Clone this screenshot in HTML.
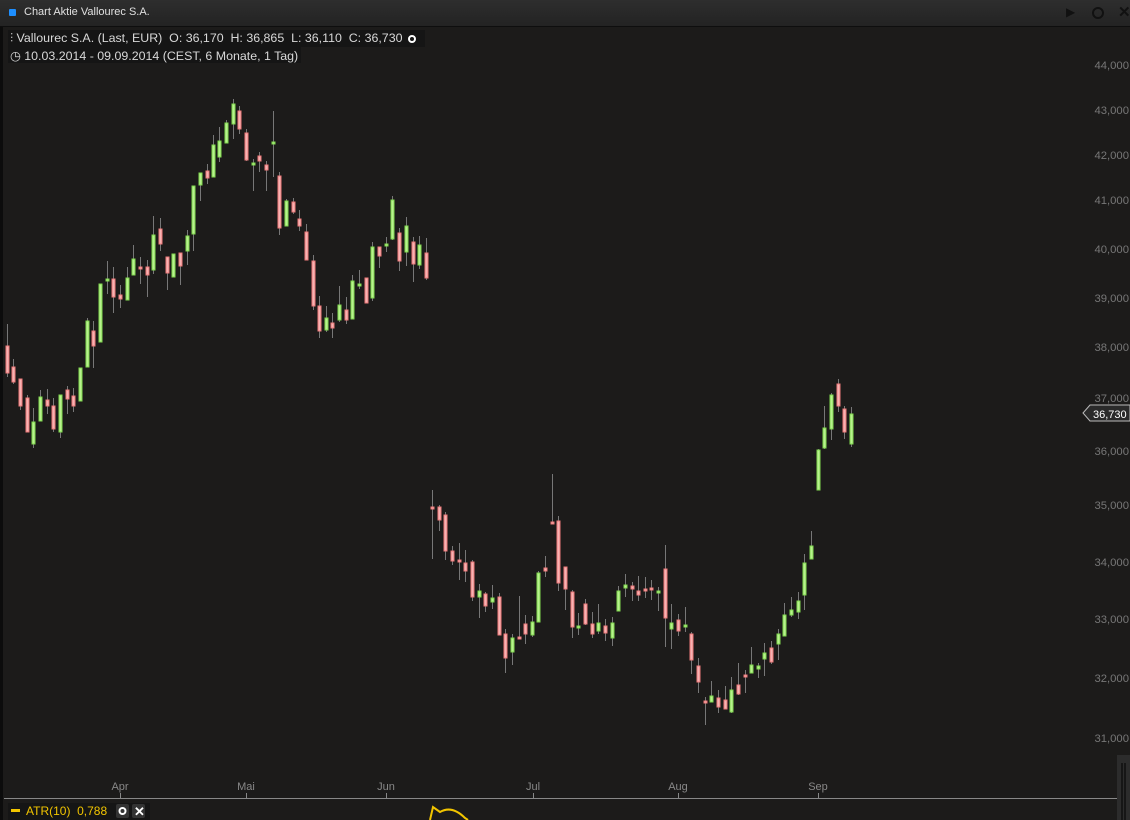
<!DOCTYPE html>
<html><head><meta charset="utf-8"><style>
body{margin:0;background:#1c1b1a;width:1130px;height:820px;overflow:hidden;font-family:"Liberation Sans",sans-serif}
#title{position:absolute;left:0;top:0;width:1130px;height:26px;background:linear-gradient(#2e2e2e,#232323);border-bottom:1px solid #0e0e0e}
.t{position:absolute;white-space:nowrap}
</style></head><body>
<div id="title">
<div style="position:absolute;left:9px;top:9px;width:7px;height:7px;background:#1e8fff;border-radius:1px"></div>
<div class="t" style="left:24px;top:6px;font-size:11px;color:#e0e0e0">Chart Aktie Vallourec S.A.</div>
<div class="t" style="left:1066px;top:5px;font-size:12px;color:#111">&#x25B6;</div>
<div style="position:absolute;left:1092px;top:7px;width:8px;height:8px;border:2px solid #111;border-radius:50%"></div>
<div class="t" style="left:1118px;top:3px;font-size:15px;font-weight:bold;color:#111">✕</div>
</div>
<div style="position:absolute;left:0;top:27px;width:3px;height:793px;background:#0c0c0c"></div>
<div style="position:absolute;left:8px;top:30px;width:417px;height:17px;background:#151515"></div>
<div class="t" style="left:10px;top:31px;font-size:12.4px;color:#d8d8d8">⫶ Vallourec S.A. (Last, EUR)&nbsp; O: 36,170&nbsp; H: 36,865&nbsp; L: 36,110&nbsp; C: 36,730</div>
<div style="position:absolute;left:408px;top:35px;width:4px;height:4px;border:2px solid #fff;border-radius:50%"></div>
<div style="position:absolute;left:8px;top:47px;width:293px;height:16px;background:#151515"></div>
<div class="t" style="left:10px;top:48px;font-size:12.4px;color:#d8d8d8">&#x25F7; 10.03.2014 - 09.09.2014 (CEST, 6 Monate, 1 Tag)</div>
<svg id="s" width="1130" height="820" style="position:absolute;left:0;top:0" xmlns="http://www.w3.org/2000/svg">
<g font-family="Liberation Sans, sans-serif" font-size="11.3" fill="#777" text-anchor="end">
<text x="1129" y="69">44,000</text><text x="1129" y="114">43,000</text><text x="1129" y="159">42,000</text><text x="1129" y="204">41,000</text><text x="1129" y="253">40,000</text><text x="1129" y="302">39,000</text><text x="1129" y="351">38,000</text><text x="1129" y="402">37,000</text><text x="1129" y="455">36,000</text><text x="1129" y="509">35,000</text><text x="1129" y="566">34,000</text><text x="1129" y="623">33,000</text><text x="1129" y="682">32,000</text><text x="1129" y="742">31,000</text>
</g>
<polygon points="1083,413 1090,405 1130,405 1130,421 1090,421" fill="#2a2a2a" stroke="#bbb"/>
<text x="1093" y="418" font-family="Liberation Sans" font-size="11" fill="#fff">36,730</text>
<rect x="1117" y="755" width="13" height="65" fill="#2c2c2c"/>
<line x1="1122" y1="763" x2="1122" y2="820" stroke="#000"/><line x1="1125" y1="763" x2="1125" y2="820" stroke="#000"/>
<line x1="4" y1="798.5" x2="1117" y2="798.5" stroke="#888"/>
<g stroke="#888"><line x1="120.5" y1="793" x2="120.5" y2="798"/><line x1="246.5" y1="793" x2="246.5" y2="798"/><line x1="386.5" y1="793" x2="386.5" y2="798"/><line x1="533.5" y1="793" x2="533.5" y2="798"/><line x1="678.5" y1="793" x2="678.5" y2="798"/><line x1="818.5" y1="793" x2="818.5" y2="798"/></g>
<g font-family="Liberation Sans" font-size="11" fill="#888" text-anchor="middle"><text x="120" y="790">Apr</text><text x="246" y="790">Mai</text><text x="386" y="790">Jun</text><text x="533" y="790">Jul</text><text x="678" y="790">Aug</text><text x="818" y="790">Sep</text></g>
<rect x="8" y="803" width="142" height="17" fill="#151515"/>
<rect x="11" y="809" width="9" height="3" fill="#f2c500"/>
<text x="26" y="815" font-family="Liberation Sans" font-size="12" fill="#f2c500">ATR(10)&nbsp; 0,788</text>
<rect x="116" y="804" width="13" height="14" rx="2" fill="#333"/><circle cx="122.5" cy="811" r="3" fill="none" stroke="#fff" stroke-width="2"/>
<rect x="132" y="804" width="13" height="14" rx="2" fill="#333"/><text x="134" y="816" font-size="13" font-weight="bold" fill="#fff" font-family="Liberation Sans">✕</text>
<path d="M430,820 L433,807 L440,812 Q452,805 465,818 L468,820" fill="none" stroke="#f2c500" stroke-width="2"/>
<g id="c"></g>
</svg>
<script>
var d=[[7,346,373,324,377],[13,367,382,359,384],[20,379,406,379,410],[27,398,432,395,432],[33,444,422,408,448],[40,421,397,390,421],[47,400,406,389,414],[53,406,429,398,432],[60,432,395,395,438],[67,390,399,386,414],[73,396,406,388,412],[80,401,368,368,401],[87,367,321,318,367],[93,331,346,321,368],[100,342,284,284,342],[107,281,279,261,294],[113,279,297,267,313],[120,295,299,285,308],[127,300,278,267,300],[133,275,259,245,275],[140,267,268,257,284],[147,267,275,260,297],[153,270,235,216,274],[160,229,244,218,251],[167,257,273,257,290],[173,277,254,254,277],[180,253,266,253,285],[187,251,236,230,265],[193,234,186,186,251],[200,185,173,173,201],[207,171,178,164,184],[213,177,145,135,177],[219,157,141,127,162],[226,143,123,120,143],[233,124,104,99,139],[239,111,129,106,134],[246,133,160,129,161],[253,164,163,159,191],[259,156,161,152,172],[266,165,170,161,191],[273,143,142,111,177],[279,176,228,172,235],[286,226,201,199,226],[293,202,212,198,214],[299,219,226,210,231],[306,232,260,224,260],[313,261,306,255,310],[319,306,331,296,338],[326,330,318,306,332],[332,323,328,313,338],[339,320,305,286,322],[346,310,320,297,324],[352,319,281,275,319],[359,286,284,270,289],[366,278,303,278,303],[372,298,247,242,301],[379,247,256,247,268],[386,246,244,237,252],[392,239,200,196,240],[399,233,261,228,271],[406,252,226,217,266],[413,242,264,237,282],[419,265,245,236,269],[426,253,278,238,280],
[432,507,508,490,559],[439,507,520,505,531],[445,515,551,512,560],[452,551,561,546,565],[459,560,561,543,580],[465,563,571,550,582],[472,562,597,560,601],[479,597,591,584,618],[485,594,606,592,612],[492,602,598,585,609],[499,597,635,593,635],[505,634,658,629,673],[512,652,638,634,665],[519,637,638,596,638],[525,624,634,615,644],[532,635,622,616,637],[538,622,573,571,622],[545,568,571,556,577],[552,522,523,474,523],[558,521,583,516,591],[565,567,589,567,610],[572,592,627,590,638],[578,627,626,613,635],[585,604,624,599,625],[592,624,634,612,638],[598,631,623,604,634],[605,626,633,619,641],[612,638,623,617,646],[618,611,591,586,611],[625,588,585,574,597],[632,586,589,582,601],[638,591,595,576,601],[645,589,591,577,598],[651,588,590,580,600],[658,593,591,587,611],[665,569,618,545,647],[671,629,623,604,649],[678,620,631,614,636],[685,627,625,607,632],[691,634,660,632,674],[698,666,682,658,693],[705,701,703,697,725],[711,702,696,681,702],[718,698,707,690,713],[725,700,709,686,709],[731,712,690,677,713],[738,685,694,663,695],[745,675,677,670,693],[751,673,665,647,673],[758,669,666,663,678],[764,659,653,643,676],[771,648,662,641,664],[778,644,634,629,660],[784,636,615,603,636],[791,615,610,597,617],[798,612,601,592,619],[804,595,563,554,610],[811,559,546,531,559],[818,490,450,449,490],[824,448,428,406,449],[831,429,395,393,440],[838,384,406,379,412],[844,409,432,406,439],[851,444,414,407,447]];
var g=document.getElementById('c'),h='';
d.forEach(function(c){var x=c[0],o=c[1],cl=c[2],up=cl<o;var t=Math.min(o,cl),b=Math.max(o,cl);
h+='<line x1="'+(x+.5)+'" y1="'+c[3]+'" x2="'+(x+.5)+'" y2="'+c[4]+'" stroke="#777"/>';
h+='<rect x="'+(x-1)+'" y="'+t+'" width="3" height="'+Math.max(b-t,2)+'" fill="'+(up?'#b8f28e':'#f7b3b3')+'" stroke="'+(up?'#7fd84e':'#ee7a7a')+'" stroke-width="1"/>';});
g.innerHTML=h;
</script>
</body></html>
